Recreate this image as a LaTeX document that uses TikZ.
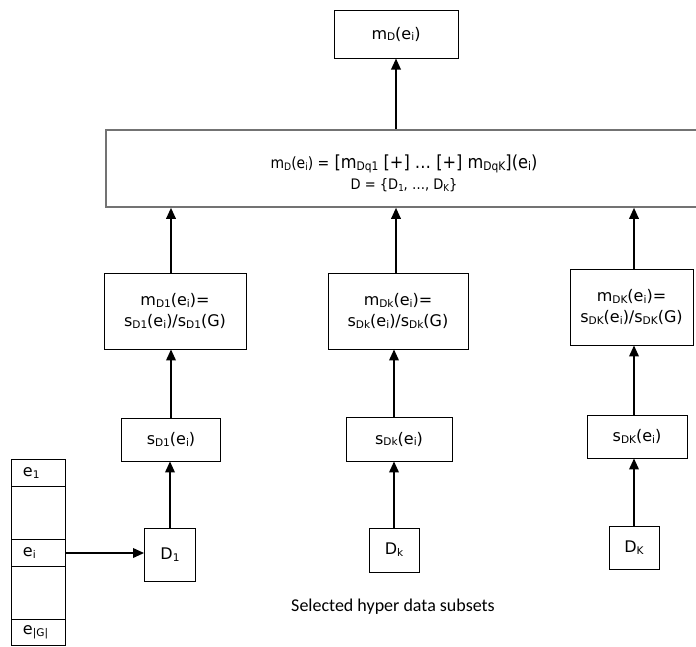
\documentclass[tikz,border=0pt]{standalone}
\usepackage{fontspec}
\setmainfont{DejaVu Sans}
\newfontfamily\condfont{DejaVu Sans Condensed}
\newfontfamily\capfont{Carlito}
\usetikzlibrary{arrows.meta}

\makeatletter
\newcommand\lo[1]{\raisebox{-0.12em}{\fontsize{\fpeval{0.66*\f@size}}{\fpeval{0.66*\f@size}}\selectfont #1}}
\makeatother

\begin{document}
\begin{tikzpicture}[x=1pt, y=-1pt,
    box/.style={draw, line width=0.8pt, inner sep=0pt, align=center, font=\fontsize{16}{21}\selectfont},
    cell/.style={draw, line width=0.8pt, inner sep=0pt, minimum width=54pt, text width=30pt, align=left, font=\fontsize{16}{18}\selectfont},
    arr/.style={line width=1.8pt, -{Triangle[length=11pt,width=9.5pt]}}
]
\useasboundingbox (0,0) rectangle (696,646);

% result on top
\node[box, line width=1pt, minimum width=124pt, minimum height=48pt] (mD) at (396,34) {m\lo{D}(e\lo{i})};

% combination box (runs past the right edge)
\node[box, draw=black!55, line width=1.6pt, minimum width=596pt, minimum height=77pt] (comb) at (404,168.5) {};
\node[font=\condfont\fontsize{18}{20}\selectfont] (comb1) at (404,164)
    {{\fontsize{15.5}{17}\selectfont m\lo{D}(e\lo{i}) =} [m\lo{Dq1} [+] … [+] m\lo{DqK}](e\lo{i})};
\node[font=\condfont\fontsize{14.5}{16}\selectfont] (comb2) at (404,185) {D = \{D\lo{1}, …, D\lo{K}\}};

% normalised masses
\node[box, minimum width=142pt, minimum height=76pt] (md1) at (175,311) {m\lo{D1}(e\lo{i})=\\s\lo{D1}(e\lo{i})/s\lo{D1}(G)};
\node[box, minimum width=140pt, minimum height=76pt] (mdk) at (398,311) {m\lo{Dk}(e\lo{i})=\\s\lo{Dk}(e\lo{i})/s\lo{Dk}(G)};
\node[box, minimum width=123pt, minimum height=76pt] (mdK) at (631.5,307) {m\lo{DK}(e\lo{i})=\\s\lo{DK}(e\lo{i})/s\lo{DK}(G)};

% supports
\node[box, minimum width=99pt, minimum height=43pt] (sd1) at (171,439.5) {s\lo{D1}(e\lo{i})};
\node[box, minimum width=106pt, minimum height=44pt] (sdk) at (399,439) {s\lo{Dk}(e\lo{i})};
\node[box, minimum width=100pt, minimum height=43pt] (sdK) at (637,436.5) {s\lo{DK}(e\lo{i})};

% data subsets
\node[box, minimum width=51pt, minimum height=53pt] (d1) at (170,554.5) {D\lo{1}};
\node[box, minimum width=50pt, minimum height=44pt] (dk) at (394,550) {D\lo{k}};
\node[box, minimum width=50pt, minimum height=43pt] (dK) at (634,547.5) {D\lo{K}};

\node[font=\capfont\fontsize{18}{20}\selectfont] (cap) at (393,607) {Selected hyper data subsets};

% element array
\foreach \yy/\hh/\lbl [count=\n] in {473/27/e\lo{1}, 513/53/, 553/27/e\lo{i}, 592.75/52.5/, 632/26/e\lo{|G|}} {
    \node[cell, minimum height=\hh pt] (c\n) at (38,\yy) {\lbl};
}

% arrows
\draw[arr] (c3.east) -- (c3.east -| d1.west);
\draw[arr] (d1.north) -- (d1.north |- sd1.south);
\draw[arr] (dk.north) -- (dk.north |- sdk.south);
\draw[arr] (dK.north) -- (dK.north |- sdK.south);
\draw[arr] (sd1.north) -- (sd1.north |- md1.south);
\draw[arr] (dk |- sdk.north) -- (dk |- mdk.south);
\draw[arr] (dK |- sdK.north) -- (dK |- mdK.south);
\draw[arr] (sd1 |- md1.north) -- (sd1 |- comb.south);
\draw[arr] (mD |- mdk.north) -- (mD |- comb.south);
\draw[arr] (dK |- mdK.north) -- (dK |- comb.south);
\draw[arr] (mD |- comb.north) -- (mD.south);

\end{tikzpicture}
\end{document}
